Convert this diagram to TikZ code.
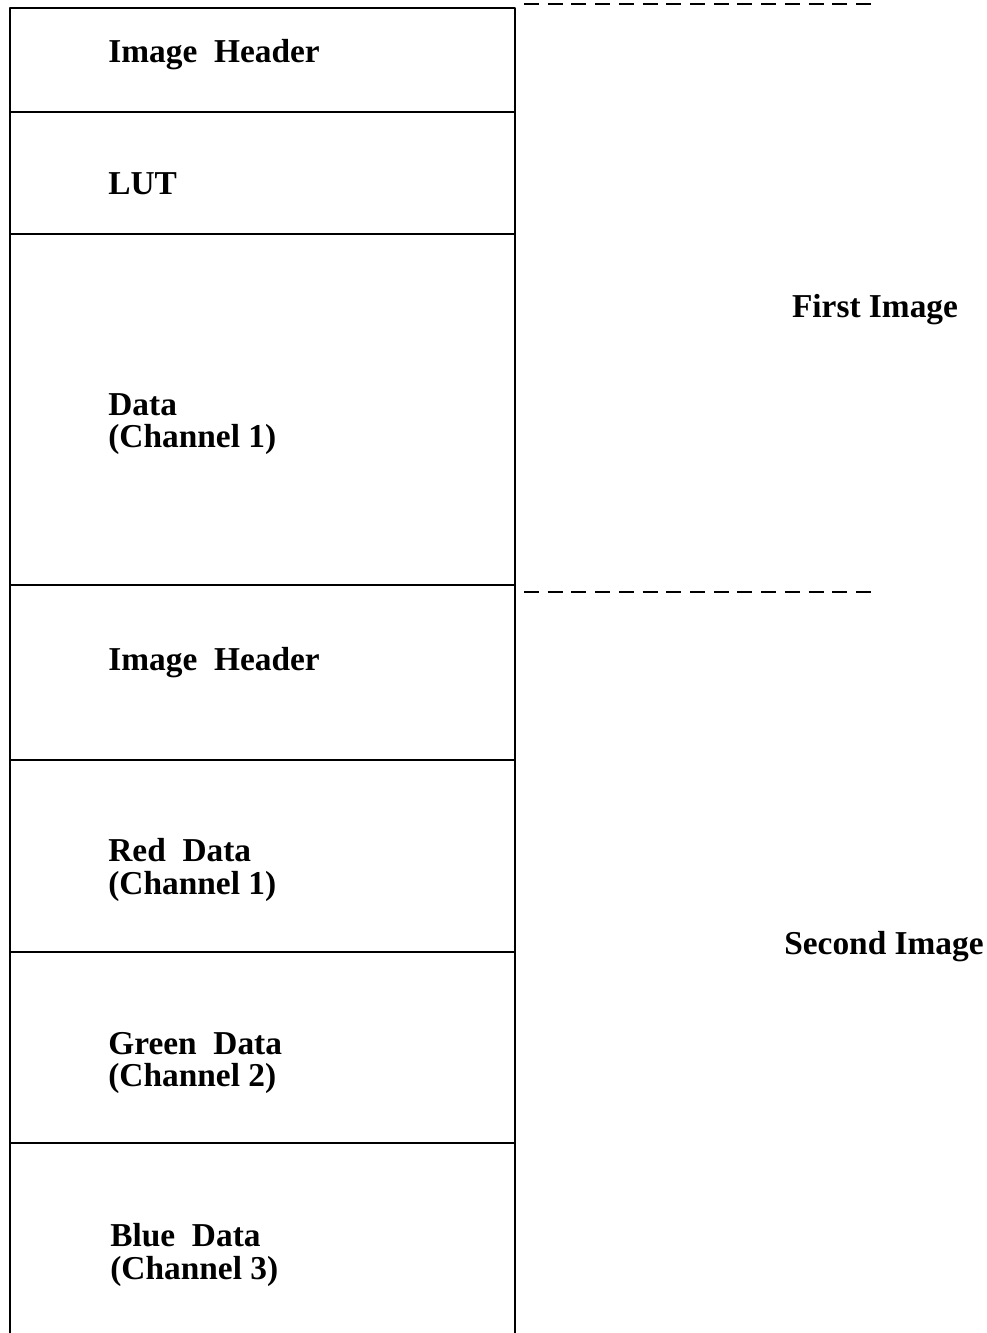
\documentclass[tikz,border=0pt]{standalone}
\usepackage{fontspec}
\setmainfont{Liberation Serif}
\begin{document}
\begin{tikzpicture}[line join=round, line cap=butt, x=0.02cm, y=-0.02cm]
    \tikzset{field style/.style={font=\fontsize{19}{18.5}\selectfont\bfseries, align=left, anchor=west, inner sep=0pt}}
    \tikzset{image style/.style={font=\fontsize{19}{18.5}\selectfont\bfseries, inner sep=0pt}}
    \def \xl{10}
    \def \xr{515}
    \def \ytop{8}
    \def \ybot{1333}
    \useasboundingbox (0,0) rectangle (987,1333);
    % file outline
    \draw[line width=1.1pt] (\xl,\ybot)--(\xl,\ytop)--(\xr,\ytop)--(\xr,\ybot);
    \foreach \y in {112,234,585,760,952,1143}
        \draw[line width=1.1pt] (\xl,\y)--(\xr,\y);
    % image boundaries
    \draw[line width=1.4pt, dash pattern=on 8.5pt off 5pt] (524,4)--(875,4);
    \draw[line width=1.4pt, dash pattern=on 8.5pt off 5pt] (524,592)--(875,592);
    % fields
    \node[field style] (hdra) at (108,55) {Image\ \ Header};
    \node[field style] (lut) at (108,184) {LUT};
    \node[field style] (data) at (108,424) {Data\\(Channel 1)};
    \node[field style] (hdrb) at (108,663) {Image\ \ Header};
    \node[field style] (red) at (108,870) {Red\ \ Data\\(Channel 1)};
    \node[field style] (green) at (108,1063) {Green\ \ Data\\(Channel 2)};
    \node[field style] (blue) at (110,1255) {Blue\ \ Data\\(Channel 3)};
    % images
    \node[image style] (first) at (875,310) {First Image};
    \node[image style] (second) at (884,947) {Second Image};
\end{tikzpicture}
\end{document}
